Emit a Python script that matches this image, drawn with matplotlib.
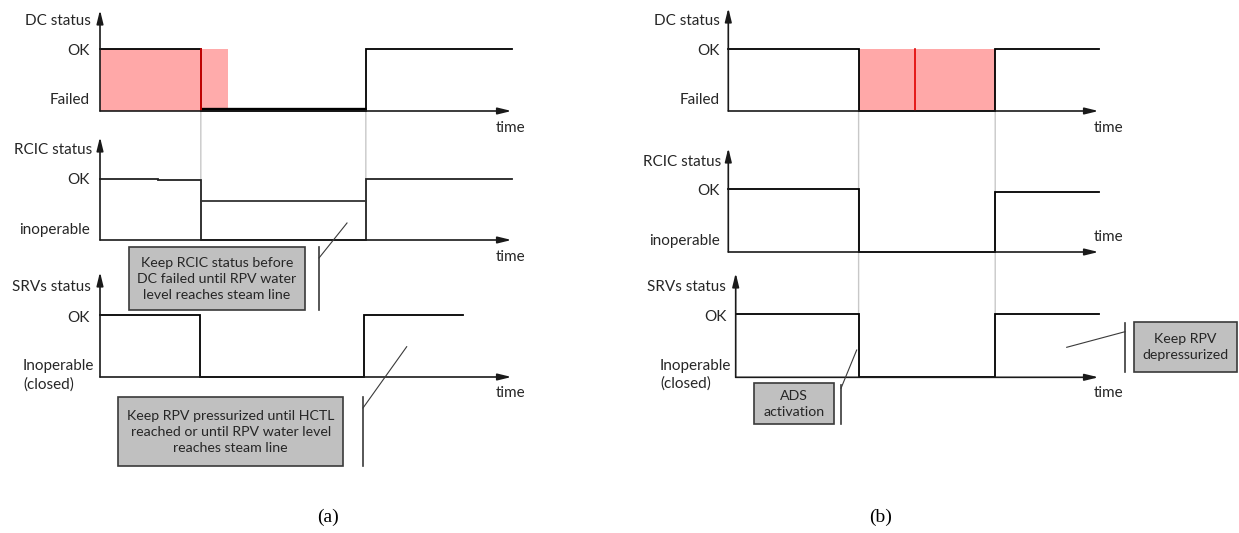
import matplotlib.pyplot as plt
from matplotlib.patches import Rectangle, ConnectionPatch

W, H = 1239, 533
DPI = 100

# Status levels: 0 = Failed / inoperable, 1 = OK. Times run 0..100 along each time axis.

# --- case (a) ---
dc_a_times = [0, 24.5, 64.6, 100]
dc_a_levels = [1, 0, 1, 1]
dc_a_shade = [0, 24.5]
dc_a_shade_ext = [24.5, 31.1]
dc_a_failed = [24.5, 64.6]

rcic_a_times = [0, 14.1, 24.5, 64.6, 100]
rcic_a_levels = [1, 0.984, 0, 1, 1]
rcic_a_hold = [24.5, 64.6]
rcic_a_hold_level = 0.64

srv_a_times = [0, 24.2, 64.2, 88.3]
srv_a_levels = [1, 0, 1, 1]

# --- case (b) ---
dc_b_times = [0, 35.2, 72.1, 100]
dc_b_levels = [1, 0, 1, 1]
dc_b_shade = [35.2, 72.1]
dc_b_marker = 50.5

rcic_b_times = [0, 35.4, 72.1, 100]
rcic_b_levels = [1, 0, 0.96, 0.96]

srv_b_times = [2, 35.2, 72.1, 100]
srv_b_levels = [1, 0, 1, 1]

LABEL_FONT = ["Lato", "DejaVu Sans"]
TXT = "#262626"
AXC = "#1a1a1a"
PINK = "#ffa8a8"
GREY_LINE = "#c8c8c8"

plt.rcParams["font.family"] = LABEL_FONT

fig = plt.figure(figsize=(W / DPI, H / DPI), dpi=DPI)
fig.patch.set_facecolor("white")


def timing_axes(left, right, base, ok, top, tmin=0):
    """small axes whose x runs in time units and y=1 sits on the OK level"""
    ax = fig.add_axes([left / W, 1 - base / H, (right - left) / W, (base - top) / H])
    ax.set_xlim(tmin, 100)
    ax.set_ylim(0, (base - top) / (base - ok))
    ax.axis("off")
    arrow = dict(arrowstyle="-|>,head_length=0.9,head_width=0.22", color=AXC,
                 lw=1.2, mutation_scale=9, shrinkA=0, shrinkB=0)
    ax.annotate("", xy=(100, 0), xytext=(tmin, 0), arrowprops=arrow,
                annotation_clip=False)
    ax.annotate("", xy=(tmin, ax.get_ylim()[1]), xytext=(tmin, 0), arrowprops=arrow,
                annotation_clip=False)
    return ax


def step(ax, t, lv, **kw):
    kw.setdefault("color", "black")
    kw.setdefault("lw", 1.3)
    ax.plot(t, lv, drawstyle="steps-post", clip_on=False, solid_joinstyle="miter", **kw)


# ---- (a) ----
ax_dc_a = timing_axes(100, 511.5, 111, 48.7, 10)
ax_dc_a.fill_between(dc_a_shade, 0, 1, color=PINK, lw=0)
ax_dc_a.fill_between(dc_a_shade_ext, 0, 1, color="#ffabab", lw=0)
step(ax_dc_a, dc_a_times, dc_a_levels)
ax_dc_a.plot(dc_a_failed, [0.03, 0.03], color="black", lw=2.4, solid_capstyle="butt")
ax_dc_a.plot([dc_a_times[1]] * 2, [0, 1], color="#e00000", lw=1.2)

ax_rcic_a = timing_axes(100, 511.5, 240, 179, 137)
step(ax_rcic_a, rcic_a_times, rcic_a_levels, color="#222222")
ax_rcic_a.plot(rcic_a_hold, [rcic_a_hold_level] * 2, color="#333333", lw=1.3)

ax_srv_a = timing_axes(100, 511.5, 377, 314.7, 272)
step(ax_srv_a, srv_a_times, srv_a_levels)

for t in dc_a_times[1:3]:
    fig.add_artist(ConnectionPatch((t, 0), (t, 1), "data", "data",
                                   axesA=ax_dc_a, axesB=ax_rcic_a,
                                   color=GREY_LINE, lw=1.0, zorder=0))

# ---- (b) ----
ax_dc_b = timing_axes(728.3, 1098.5, 111, 48.7, 8)
ax_dc_b.fill_between(dc_b_shade, 0, 1, color=PINK, lw=0)
step(ax_dc_b, dc_b_times, dc_b_levels)
ax_dc_b.plot([dc_b_marker] * 2, [0, 1], color="#e00000", lw=1.2)

ax_rcic_b = timing_axes(728.3, 1098.5, 252, 189, 148)
step(ax_rcic_b, rcic_b_times, rcic_b_levels)

ax_srv_b = timing_axes(735.7, 1098.5, 377.3, 314.3, 273, tmin=2)
step(ax_srv_b, srv_b_times, srv_b_levels)

for t in dc_b_times[1:3]:
    fig.add_artist(ConnectionPatch((t, 0), (t, 1), "data", "data",
                                   axesA=ax_dc_b, axesB=ax_srv_b,
                                   color=GREY_LINE, lw=1.0, zorder=0))

# ---- labels and callouts on a pixel-space overlay ----
ov = fig.add_axes([0, 0, 1, 1], zorder=5)
ov.set_xlim(0, W)
ov.set_ylim(H, 0)
ov.axis("off")

FS = 11


def label(x, y, s, ha="right", fs=FS):
    ov.text(x, y, s, ha=ha, va="center", fontsize=fs, color=TXT)


# (a) axis labels
label(91, 21, "DC status")
label(90, 51, "OK")
label(90, 100, "Failed")
label(92, 150, "RCIC status")
label(90, 180, "OK")
label(90, 230, "inoperable")
label(91, 287, "SRVs status")
label(90, 318, "OK")
label(23, 366, "Inoperable", ha="left")
label(23, 385, "(closed)", ha="left")
for y in (128, 257, 393):
    label(496, y, "time", ha="left")

# (b) axis labels
label(720, 21, "DC status")
label(720, 51, "OK")
label(720, 100, "Failed")
label(721, 162, "RCIC status")
label(720, 191, "OK")
label(720, 241, "inoperable")
label(726, 287, "SRVs status")
label(727, 317, "OK")
label(660, 366, "Inoperable", ha="left")
label(660, 384, "(closed)", ha="left")
for y in (128, 237, 393):
    label(1094, y, "time", ha="left")


def callout(x0, y0, x1, y1, text, bar_x, bar_y0, bar_y1, tip, root_y):
    ov.add_patch(Rectangle((x0, y0), x1 - x0, y1 - y0, facecolor="#c0c0c0",
                           edgecolor="#3a3a3a", lw=1.2))
    ov.text((x0 + x1) / 2, (y0 + y1) / 2, text, ha="center", va="center",
            fontsize=FS - 0.8, color=TXT, linespacing=1.4)
    ov.plot([bar_x, bar_x], [bar_y0, bar_y1], color="#3a3a3a", lw=1.2)
    ov.plot([bar_x, tip[0]], [root_y, tip[1]], color="#3a3a3a", lw=0.8)


callout(128.7, 247.3, 305.3, 310,
        "Keep RCIC status before\nDC failed until RPV water\nlevel reaches steam line",
        319, 247, 310, (347, 223), 258)
callout(118.3, 397.3, 343.3, 466,
        "Keep RPV pressurized until HCTL\nreached or until RPV water level\nreaches steam line",
        363, 397, 466, (406.7, 346.7), 408)
callout(754, 383.3, 834, 424, "ADS\nactivation",
        841, 385, 424, (856.7, 350), 388.3)
callout(1134, 321.7, 1236.7, 371.7, "Keep RPV\ndepressurized",
        1125, 322.7, 371.7, (1066.7, 347.3), 331.7)

# panel captions
for x, s in ((328, "(a)"), (881, "(b)")):
    ov.text(x, 517, s, ha="center", va="center", fontsize=14,
            family=["Liberation Serif", "DejaVu Serif"], color="black")

fig.savefig("out.png", dpi=DPI, facecolor="white")
